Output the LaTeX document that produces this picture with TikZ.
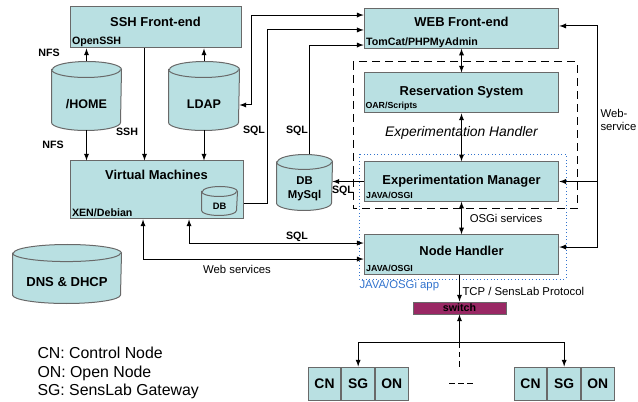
\documentclass[tikz,border=0pt]{standalone}
\usepackage{fontspec}
\setmainfont{Liberation Sans}
\usetikzlibrary{positioning}
\definecolor{boxfill}{RGB}{185,224,226}
\definecolor{boxline}{RGB}{105,105,105}
\definecolor{switchfill}{RGB}{153,40,100}
\definecolor{appblue}{RGB}{50,115,205}

% cylinder drawn round an empty node: node, half width, end radius
\newcommand{\dbshape}[3]{%
  \draw[draw=boxline,fill=boxfill] ([yshift=-#3]#1.north west) -- ([yshift=#3]#1.south west)
    arc[start angle=180,end angle=360,x radius=#2,y radius=#3]
    -- ([yshift=-#3]#1.north east)
    arc[start angle=0,end angle=180,x radius=#2,y radius=#3] -- cycle;
  \draw[draw=boxline] ([yshift=-#3]#1.north west)
    arc[start angle=180,end angle=360,x radius=#2,y radius=#3];
}

\begin{document}
\begin{tikzpicture}[x=0.75pt,y=-0.75pt,>=latex,line width=0.75pt,
    box/.style={draw=boxline,fill=boxfill,inner sep=0pt},
    rbox/.style={box,minimum width=146pt,minimum height=29.5pt},
    store/.style={inner sep=0pt},
    dbtext/.style={font=\bfseries\fontsize{9.4}{11}\selectfont},
    title/.style={anchor=base,font=\bfseries\fontsize{9.7}{11}\selectfont},
    sub/.style={anchor=base west,inner sep=0pt,font=\bfseries\fontsize{8}{9}\selectfont},
    tiny/.style={anchor=base west,inner sep=0pt,font=\bfseries\fontsize{6.6}{8}\selectfont},
    lbl/.style={inner sep=0pt,font=\bfseries\fontsize{8}{9}\selectfont},
    txt/.style={inner sep=0pt,font=\fontsize{8.5}{10}\selectfont},
    legend/.style={anchor=base west,inner sep=0pt,font=\fontsize{11.9}{14}\selectfont},
    cell/.style={box,minimum width=24.5pt,minimum height=24.75pt,
      font=\bfseries\fontsize{10.4}{12}\selectfont}]

\useasboundingbox (0,0) rectangle (638,402);

% experimentation handler and OSGi app frames
\draw[dash pattern=on 6pt off 3.75pt] (353,62) rectangle (577,209);
\draw[appblue,dotted,line width=0.6pt] (359,154) rectangle (566,279);

% front-ends
\node[box,minimum width=128.25pt,minimum height=30.75pt] (ssh) at (155.5,27.5) {};
\node[title] at ([yshift=-15pt]ssh.north) {SSH Front-end};
\node[sub] at ([xshift=1.5pt,yshift=3pt]ssh.south west) {OpenSSH};

\node[rbox] (web) at (461.5,28.5) {};
\node[title] at ([yshift=-13.5pt]web.north) {WEB Front-end};
\node[sub] at ([xshift=1.5pt,yshift=2pt]web.south west) {TomCat/PHPMyAdmin};

% storage
\node[store,minimum width=51.75pt,minimum height=51pt] (home) at (86.5,96) {};
\dbshape{home}{25.875pt}{6pt}
\node[dbtext] at ([yshift=-6pt]home.center) {/HOME};

\node[store,minimum width=52.5pt,minimum height=51pt] (ldap) at (204,96) {};
\dbshape{ldap}{26.25pt}{6pt}
\node[dbtext] at ([yshift=-6pt]ldap.center) {LDAP};

\node[store,minimum width=81pt,minimum height=43.5pt] (dns) at (67,274) {};
\dbshape{dns}{40.5pt}{6.4pt}
\node[dbtext,font=\bfseries\fontsize{9.8}{11}\selectfont] at ([yshift=-6pt]dns.center) {DNS \& DHCP};

% virtual machines
\node[box,minimum width=129.75pt,minimum height=43.5pt] (vm) at (156.5,190) {};
\node[title] at ([yshift=-14.25pt]vm.north) {Virtual Machines};
\node[sub] at ([xshift=1.5pt,yshift=2.25pt]vm.south west) {XEN/Debian};
\node[store,minimum width=26.25pt,minimum height=21pt] (vmdb) at (219.5,201) {};
\dbshape{vmdb}{13.125pt}{3.75pt}
\node[dbtext,font=\bfseries\fontsize{7}{8}\selectfont] at ([yshift=-3.75pt]vmdb.center) {DB};

\node[store,minimum width=41.25pt,minimum height=41.25pt] (mysql) at (304.5,182.5) {};
\dbshape{mysql}{20.625pt}{5.6pt}
\node[dbtext,align=center,font=\bfseries\fontsize{8.5}{10.5}\selectfont] at ([yshift=-4.5pt]mysql.center) {DB\\MySql};

% reservation, manager, node handler
\node[rbox,minimum height=30pt] (res) at (461.5,93) {};
\node[title] at ([yshift=-17.25pt]res.north) {Reservation System};
\node[tiny] at ([xshift=1pt,yshift=4pt]res.south west) {OAR/Scripts};

\node[rbox] (exp) at (461.5,181.5) {};
\node[title] at ([yshift=-17.25pt]exp.north) {Experimentation Manager};
\node[tiny] at ([xshift=1.5pt,yshift=2.5pt]exp.south west) {JAVA/OSGI};

\node[rbox] (nh) at (461.5,254.5) {};
\node[title] at ([yshift=-15.75pt]nh.north) {Node Handler};
\node[tiny] at ([xshift=1.5pt,yshift=2.5pt]nh.south west) {JAVA/OSGI};

\node[font=\itshape\fontsize{10.4}{12}\selectfont] at (461.5,133) {Experimentation Handler};
\node[txt,anchor=base west,text=appblue] at (359,288) {JAVA/OSGi app};

% switch and nodes
\node[box,fill=switchfill,minimum width=69.75pt,minimum height=9pt,
  font=\bfseries\fontsize{8}{9}\selectfont] (sw) at (459.5,308) {switch};

\node[cell] (cn1) at (324.5,383.5) {CN};
\node[cell,right=0pt of cn1] (sg1) {SG};
\node[cell,right=0pt of sg1] (on1) {ON};
\node[cell] (cn2) at (530.5,383.5) {CN};
\node[cell,right=0pt of cn2] (sg2) {SG};
\node[cell,right=0pt of sg2] (on2) {ON};

% storage links
\draw[->] (home.north) -- (home.north |- ssh.south);
\draw[->] (ldap.north) -- (ldap.north |- ssh.south);
\draw[->] (home.south) -- (home.south |- vm.north);
\draw[->] (ldap.south) -- (ldap.south |- vm.north);
\draw[->] ([xshift=-8.25pt]ssh.south) -- ([xshift=-8.25pt]ssh.south |- vm.north);

\node[lbl] at (49,53) {NFS};
\node[lbl] at (53,145) {NFS};
\node[lbl] at (127,132) {SSH};

% links to the web front-end
\draw[<->] ([yshift=-6.75pt]ldap.east) -- ++(12,0) |- ([yshift=10.1pt]web.west);
\draw[->] ([yshift=-10.5pt]vm.east) -- ++(24,0) |- ([yshift=-1.1pt]web.west);
\draw[->] ([xshift=3.75pt]mysql.north) |- ([yshift=-12.4pt]web.west);
\node[lbl] at (254,131) {SQL};
\node[lbl] at (297,131) {SQL};

\draw[<->] (web.south) -- (res.north);
\draw[<->] (res.south) -- (exp.north);
\draw[<->] (exp.south) -- (nh.north);
\node[txt] at (506,218) {OSGi services};

\draw[->] (exp.west) -- (mysql.east |- exp.west);
\node[lbl] at (343,191) {SQL};

% web services
\draw[<->] ([yshift=1.9pt]web.east) -- ++(38,0) coordinate (wsr) |- ([yshift=5.6pt]nh.east);
\draw[->] (wsr |- exp.east) -- (exp.east);
\node[txt,anchor=west,align=left] at (600,120) {Web-\\service};

% node handler to virtual machines
\draw[<->] ([xshift=24.4pt]vm.south) |- ([yshift=8.6pt]nh.west);
\draw[<->] ([xshift=-10.1pt]vm.south) |- ([yshift=-3.4pt]nh.west);
\node[lbl] at (297,237) {SQL};
\node[txt] at (237,269) {Web services};

% node handler to the nodes
\draw[->] (sw.north |- nh.south) -- (sw.north);
\node[txt,anchor=west] at (462,291) {TCP / SensLab Protocol};
\coordinate[below=21pt of sw.south] (hub);
\draw[->] (hub) -- (sw.south);
\draw[dash pattern=on 4pt off 3pt] (hub) -- (hub |- sg1.north);
\draw[->] (hub) -| (sg1.north);
\draw[->] (hub) -| (sg2.north);
\path (on1.east) -- (cn2.west) coordinate[pos=0.5] (gap);
\draw[dash pattern=on 4.5pt off 2.25pt] ([xshift=-9pt]gap) -- ([xshift=9pt]gap);

% legend
\node[legend] (legcn) at (37,358) {CN: Control Node};
\node[legend] (legon) at (37,377) {ON: Open Node};
\node[legend] (legsg) at (37,395) {SG: SensLab Gateway};

\end{tikzpicture}
\end{document}
